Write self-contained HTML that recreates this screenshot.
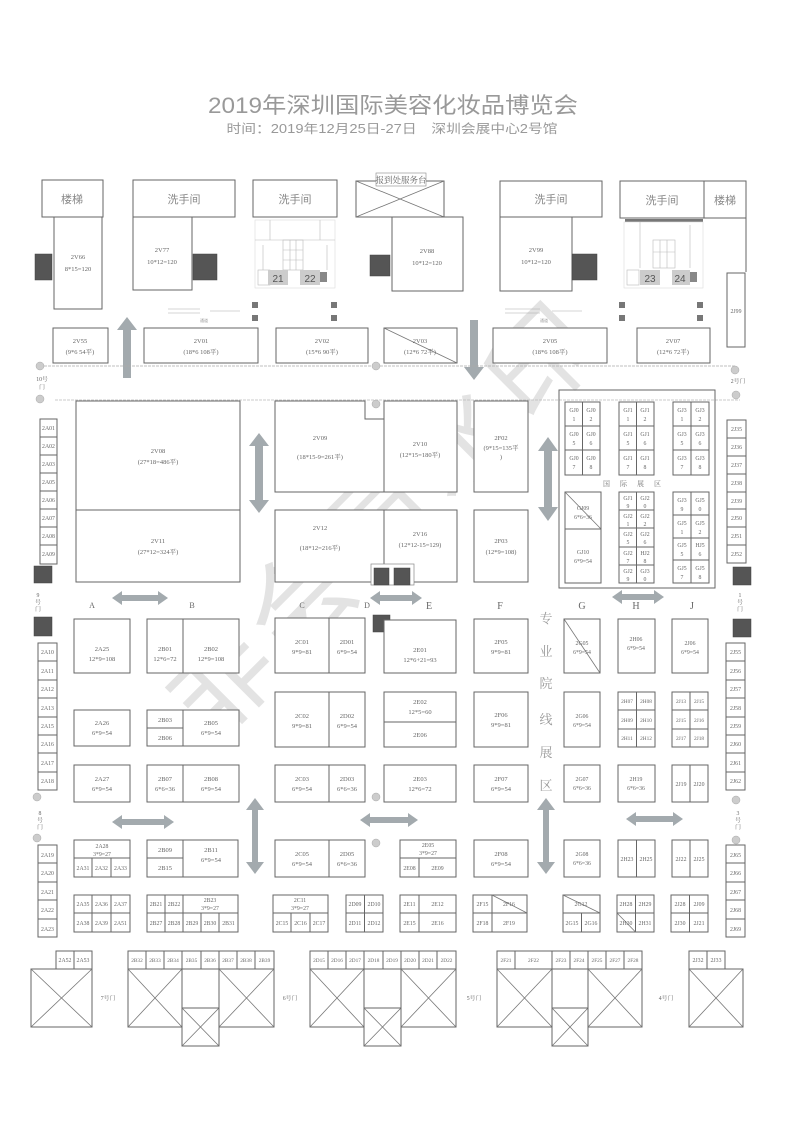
<!DOCTYPE html>
<html><head><meta charset="utf-8">
<style>
html,body{margin:0;padding:0;background:#fff;}
svg{display:block}
.b{fill:#fff;stroke:#666;stroke-width:1}
.n{fill:none;stroke:#666;stroke-width:1}
.x{stroke:#777;stroke-width:.8;fill:none}
.d{fill:#555;stroke:#444;stroke-width:.5}
.a{fill:#a3aaae}
.t{font-family:"Liberation Serif","Noto Serif CJK SC",serif;font-size:6.5px;fill:#666;text-anchor:middle}
.s{font-family:"Liberation Serif","Noto Serif CJK SC",serif;font-size:5.8px;fill:#666;text-anchor:middle}
.h{font-family:"Liberation Sans","Noto Sans CJK SC",sans-serif;font-size:11px;fill:#888;text-anchor:middle}
.l{font-family:"Liberation Serif",serif;font-size:8px;fill:#666;text-anchor:middle}
</style></head><body>
<svg width="793" height="1123" viewBox="0 0 793 1123" xmlns="http://www.w3.org/2000/svg">
<rect width="793" height="1123" fill="#fff"/>
<!-- title -->
<text x="393" y="113" text-anchor="middle" textLength="370" lengthAdjust="spacingAndGlyphs" style="font-family:'Liberation Sans','Noto Sans CJK SC',sans-serif;font-size:22px;fill:#999">2019年深圳国际美容化妆品博览会</text>
<text x="392" y="133" textLength="331" text-anchor="middle" lengthAdjust="spacingAndGlyphs" style="font-family:'Liberation Sans','Noto Sans CJK SC',sans-serif;font-size:12.5px;fill:#999">时间：2019年12月25日-27日　深圳会展中心2号馆</text>

<!-- watermark -->
<text x="385" y="555" transform="rotate(-45 385 520)" text-anchor="middle" style="font-family:'Noto Sans CJK SC',sans-serif;font-size:105px;fill:#d8d8d8;opacity:.7;letter-spacing:8px">非会员水印</text>

<!-- top row -->
<rect class="b" x="42" y="180" width="61" height="37"/><text class="h" x="72" y="203">楼梯</text>
<rect class="b" x="54" y="217" width="48" height="92"/><text class="t" x="78" y="259">2V66</text><text class="t" x="78" y="271">8*15=120</text>
<rect class="d" x="35" y="254" width="17" height="26"/>
<rect class="b" x="133" y="180" width="102" height="37"/><text class="h" x="184" y="203">洗手间</text>
<rect class="b" x="133" y="217" width="59" height="73"/><text class="t" x="162" y="252">2V77</text><text class="t" x="162" y="264">10*12=120</text>
<rect class="d" x="193" y="254" width="24" height="26"/>
<rect class="b" x="253" y="180" width="84" height="37"/><text class="h" x="295" y="203">洗手间</text>
<g stroke="#bbb" stroke-width=".6" fill="none">
<rect x="255" y="220" width="80" height="68" stroke="#ddd"/><line x1="270" y1="220" x2="270" y2="240"/><line x1="320" y1="220" x2="320" y2="240"/>
<line x1="255" y1="240" x2="335" y2="240"/><rect x="283" y="240" width="20" height="30"/>
<line x1="283" y1="250" x2="303" y2="250"/><line x1="283" y1="260" x2="303" y2="260"/><line x1="290" y1="240" x2="290" y2="270"/><line x1="296" y1="240" x2="296" y2="270"/>
<line x1="263" y1="245" x2="263" y2="270"/><line x1="327" y1="245" x2="327" y2="270"/>
<rect x="258" y="270" width="12" height="15"/></g>
<rect x="268" y="270" width="20" height="15" fill="#ccc"/><text x="278" y="282" text-anchor="middle" style="font:10px 'Liberation Sans',sans-serif;fill:#555">21</text>
<rect x="300" y="270" width="20" height="15" fill="#ccc"/><text x="310" y="282" text-anchor="middle" style="font:10px 'Liberation Sans',sans-serif;fill:#555">22</text>
<rect x="320" y="272" width="7" height="10" fill="#888"/>

<rect class="b" x="356" y="181" width="88" height="36"/><line class="x" x1="356" y1="181" x2="444" y2="217"/><line class="x" x1="356" y1="217" x2="444" y2="181"/>
<rect x="376" y="173" width="50" height="13" fill="#fff" stroke="#888" stroke-width=".6"/><text x="401" y="183" text-anchor="middle" style="font:8.5px 'Noto Serif CJK SC',serif;fill:#666">报到处服务台</text>
<rect class="b" x="392" y="217" width="71" height="74"/><text class="t" x="427" y="253">2V88</text><text class="t" x="427" y="265">10*12=120</text>
<rect class="d" x="370" y="255" width="20" height="21"/>
<rect class="b" x="500" y="181" width="102" height="36"/><text class="h" x="551" y="203">洗手间</text>
<rect class="b" x="500" y="217" width="72" height="74"/><text class="t" x="536" y="252">2V99</text><text class="t" x="536" y="264">10*12=120</text>
<rect class="d" x="572" y="254" width="25" height="26"/>
<rect class="b" x="620" y="181" width="84" height="37"/><text class="h" x="662" y="204">洗手间</text>
<rect class="b" x="704" y="181" width="42" height="37"/><text class="h" x="725" y="204">楼梯</text>
<line class="n" x1="746" y1="218" x2="746" y2="272"/>
<rect x="625" y="219" width="78" height="3" fill="#777"/>
<g stroke="#bbb" stroke-width=".6" fill="none">
<rect x="624" y="222" width="79" height="66" stroke="#ddd"/><line x1="640" y1="222" x2="640" y2="268"/><rect x="653" y="240" width="22" height="28"/>
<line x1="653" y1="252" x2="675" y2="252"/><line x1="660" y1="240" x2="660" y2="268"/><line x1="667" y1="240" x2="667" y2="268"/><line x1="690" y1="225" x2="690" y2="268"/>
<rect x="627" y="270" width="12" height="15"/></g>
<rect x="640" y="270" width="20" height="15" fill="#ccc"/><text x="650" y="282" text-anchor="middle" style="font:10px 'Liberation Sans',sans-serif;fill:#555">23</text>
<rect x="672" y="270" width="18" height="15" fill="#ccc"/><text x="680" y="282" text-anchor="middle" style="font:10px 'Liberation Sans',sans-serif;fill:#555">24</text>
<rect x="690" y="272" width="7" height="10" fill="#888"/>
<rect class="b" x="727" y="273" width="18" height="74"/><text class="s" x="736" y="313">2J99</text>

<!-- small squares -->
<g fill="#777"><rect x="252" y="302" width="6" height="6"/><rect x="252" y="315" width="6" height="6"/><rect x="331" y="302" width="6" height="6"/><rect x="331" y="315" width="6" height="6"/>
<rect x="619" y="302" width="6" height="6"/><rect x="619" y="315" width="6" height="6"/><rect x="697" y="302" width="6" height="6"/><rect x="697" y="315" width="6" height="6"/></g>
<g stroke="#aaa" stroke-width=".5"><line x1="168" y1="309" x2="200" y2="309"/><line x1="168" y1="313" x2="200" y2="313"/><line x1="210" y1="311" x2="240" y2="311"/>
<line x1="505" y1="309" x2="540" y2="309"/><line x1="505" y1="313" x2="540" y2="313"/><line x1="552" y1="311" x2="582" y2="311"/></g>
<text x="200" y="322" style="font:4px sans-serif;fill:#999">通道</text><text x="540" y="322" style="font:4px sans-serif;fill:#999">通道</text>

<!-- V row -->
<rect class="b" x="53" y="328" width="55" height="35"/><text class="t" x="80" y="343">2V55</text><text class="t" x="80" y="354">(9*6 54平)</text>
<rect class="b" x="144" y="328" width="114" height="35"/><text class="t" x="201" y="343">2V01</text><text class="t" x="201" y="354">(18*6 108平)</text>
<rect class="b" x="276" y="328" width="92" height="35"/><text class="t" x="322" y="343">2V02</text><text class="t" x="322" y="354">(15*6 90平)</text>
<rect class="b" x="384" y="328" width="73" height="35"/><line class="x" x1="384" y1="328" x2="457" y2="363"/><text class="t" x="420" y="343">2V03</text><text class="t" x="420" y="354">(12*6 72平)</text>
<rect class="b" x="493" y="328" width="114" height="35"/><text class="t" x="550" y="343">2V05</text><text class="t" x="550" y="354">(18*6 108平)</text>
<rect class="b" x="637" y="328" width="73" height="35"/><text class="t" x="673" y="343">2V07</text><text class="t" x="673" y="354">(12*6 72平)</text>
<polygon class="a" points="127,317 137,330 131,330 131,378 123,378 123,330 117,330"/>
<polygon class="a" points="474,380 464,367 470,367 470,320 478,320 478,367 484,367"/>
<line x1="40" y1="366" x2="735" y2="366" stroke="#aaa" stroke-width=".8" stroke-dasharray="3,1"/>
<line x1="55" y1="400" x2="740" y2="400" stroke="#bbb" stroke-width=".8" stroke-dasharray="3,1"/>
<g fill="#ccc" stroke="#aaa" stroke-width=".5"><circle cx="40" cy="366" r="4"/><circle cx="40" cy="399" r="4"/><circle cx="376" cy="366" r="4"/><circle cx="735" cy="370" r="4"/><circle cx="736" cy="395" r="4"/><circle cx="376" cy="404" r="4"/>
<circle cx="37" cy="797" r="4"/><circle cx="37" cy="838" r="4"/><circle cx="376" cy="797" r="4"/><circle cx="376" cy="843" r="4"/><circle cx="736" cy="800" r="4"/><circle cx="736" cy="840" r="4"/></g>
<text class="s" x="42" y="381">10号</text><text class="s" x="42" y="389">门</text>
<text class="s" x="738" y="383">2号门</text>

<!-- middle big -->
<rect class="b" x="76" y="401" width="164" height="109"/><text class="t" x="158" y="453">2V08</text><text class="t" x="158" y="464">(27*18=486平)</text>
<rect class="b" x="76" y="510" width="164" height="72"/><text class="t" x="158" y="543">2V11</text><text class="t" x="158" y="554">(27*12=324平)</text>
<polygon class="a" points="259,433 269,446 263,446 263,500 269,500 259,513 249,500 255,500 255,446 249,446"/>
<path class="b" d="M275,401 H365 V419 H384 V492 H275 Z"/>
<rect class="b" x="384" y="401" width="73" height="91"/>
<text class="t" x="320" y="440">2V09</text><text class="t" x="320" y="459">(18*15-9=261平)</text>
<text class="t" x="420" y="446">2V10</text><text class="t" x="420" y="457">(12*15=180平)</text>
<rect class="b" x="275" y="510" width="109" height="72"/><text class="t" x="320" y="530">2V12</text><text class="t" x="320" y="550">(18*12=216平)</text>
<rect class="b" x="384" y="510" width="73" height="72"/><text class="t" x="420" y="536">2V16</text><text class="t" x="420" y="547">(12*12-15=129)</text>
<rect x="371" y="564" width="43" height="21" fill="#fff" stroke="#888" stroke-width=".7"/>
<rect class="d" x="374" y="568" width="15" height="17"/><rect class="d" x="394" y="568" width="16" height="17"/>
<rect class="d" x="373" y="615" width="17" height="17"/>
<rect class="b" x="474" y="401" width="54" height="91"/><text class="t" x="501" y="440">2F02</text><text class="t" x="501" y="450">(9*15=135平</text><text class="t" x="501" y="459">)</text>
<rect class="b" x="474" y="510" width="54" height="72"/><text class="t" x="501" y="543">2F03</text><text class="t" x="501" y="554">(12*9=108)</text>
<polygon class="a" points="548,437 558,451 552,451 552,507 558,507 548,521 538,507 544,507 544,451 538,451"/>

<!-- international -->
<rect class="n" x="559" y="390" width="156" height="198"/>
<g>
<rect class="b" x="565" y="402" width="35" height="73"/><line class="n" x1="582.5" y1="402" x2="582.5" y2="475"/><line class="n" x1="565" y1="426" x2="600" y2="426"/><line class="n" x1="565" y1="450" x2="600" y2="450"/>
<rect class="b" x="619" y="402" width="35" height="73"/><line class="n" x1="636.5" y1="402" x2="636.5" y2="475"/><line class="n" x1="619" y1="426" x2="654" y2="426"/><line class="n" x1="619" y1="450" x2="654" y2="450"/>
<rect class="b" x="673" y="402" width="36" height="73"/><line class="n" x1="691" y1="402" x2="691" y2="475"/><line class="n" x1="673" y1="426" x2="709" y2="426"/><line class="n" x1="673" y1="450" x2="709" y2="450"/>
</g>
<g class="s">
<text x="574" y="412">GJ0</text><text x="574" y="421">1</text><text x="591" y="412">GJ0</text><text x="591" y="421">2</text>
<text x="574" y="436">GJ0</text><text x="574" y="445">5</text><text x="591" y="436">GJ0</text><text x="591" y="445">6</text>
<text x="574" y="460">GJ0</text><text x="574" y="469">7</text><text x="591" y="460">GJ0</text><text x="591" y="469">8</text>
<text x="628" y="412">GJ1</text><text x="628" y="421">1</text><text x="645" y="412">GJ1</text><text x="645" y="421">2</text>
<text x="628" y="436">GJ1</text><text x="628" y="445">5</text><text x="645" y="436">GJ1</text><text x="645" y="445">6</text>
<text x="628" y="460">GJ1</text><text x="628" y="469">7</text><text x="645" y="460">GJ1</text><text x="645" y="469">8</text>
<text x="682" y="412">GJ3</text><text x="682" y="421">1</text><text x="700" y="412">GJ3</text><text x="700" y="421">2</text>
<text x="682" y="436">GJ3</text><text x="682" y="445">5</text><text x="700" y="436">GJ3</text><text x="700" y="445">6</text>
<text x="682" y="460">GJ3</text><text x="682" y="469">7</text><text x="700" y="460">GJ3</text><text x="700" y="469">8</text>
</g>
<text x="637" y="486" text-anchor="middle" style="font:7px 'Noto Serif CJK SC',serif;fill:#777;letter-spacing:10px">国际展区</text>
<rect class="b" x="565" y="492" width="36" height="37"/><line class="x" x1="565" y1="492" x2="601" y2="529"/><text class="s" x="583" y="510">GJ09</text><text class="s" x="583" y="519">6*6=36</text>
<rect class="b" x="565" y="529" width="36" height="54"/><text class="s" x="583" y="554">GJ10</text><text class="s" x="583" y="563">6*9=54</text>
<rect class="b" x="619" y="492" width="35" height="91"/><line class="n" x1="636.5" y1="492" x2="636.5" y2="583"/>
<g class="n"><line x1="619" y1="510" x2="654" y2="510"/><line x1="619" y1="528" x2="654" y2="528"/><line x1="619" y1="547" x2="654" y2="547"/><line x1="619" y1="565" x2="654" y2="565"/></g>
<rect class="b" x="673" y="492" width="36" height="91"/><line class="n" x1="691" y1="492" x2="691" y2="583"/>
<g class="n"><line x1="673" y1="515" x2="709" y2="515"/><line x1="673" y1="538" x2="709" y2="538"/><line x1="673" y1="560" x2="709" y2="560"/></g>
<g class="s">
<text x="628" y="500">GJ1</text><text x="628" y="508">9</text><text x="645" y="500">GJ2</text><text x="645" y="508">0</text>
<text x="628" y="518">GJ2</text><text x="628" y="526">1</text><text x="645" y="518">GJ2</text><text x="645" y="526">2</text>
<text x="628" y="536">GJ2</text><text x="628" y="544">5</text><text x="645" y="536">GJ2</text><text x="645" y="544">6</text>
<text x="628" y="555">GJ2</text><text x="628" y="563">7</text><text x="645" y="555">HJ2</text><text x="645" y="563">8</text>
<text x="628" y="573">GJ2</text><text x="628" y="581">9</text><text x="645" y="573">GJ3</text><text x="645" y="581">0</text>
<text x="682" y="502">GJ3</text><text x="682" y="511">9</text><text x="700" y="502">GJ5</text><text x="700" y="511">0</text>
<text x="682" y="525">GJ5</text><text x="682" y="534">1</text><text x="700" y="525">GJ5</text><text x="700" y="534">2</text>
<text x="682" y="547">GJ5</text><text x="682" y="556">5</text><text x="700" y="547">HJ5</text><text x="700" y="556">6</text>
<text x="682" y="570">GJ5</text><text x="682" y="579">7</text><text x="700" y="570">GJ5</text><text x="700" y="579">8</text>
</g>

<!-- side columns -->
<g>
<rect class="b" x="40" y="419" width="17" height="145"/>
<g class="n"><line x1="40" y1="437" x2="57" y2="437"/><line x1="40" y1="455" x2="57" y2="455"/><line x1="40" y1="473" x2="57" y2="473"/><line x1="40" y1="491" x2="57" y2="491"/><line x1="40" y1="509" x2="57" y2="509"/><line x1="40" y1="527" x2="57" y2="527"/><line x1="40" y1="545" x2="57" y2="545"/></g>
<g class="s"><text x="48.5" y="430">2A01</text><text x="48.5" y="448">2A02</text><text x="48.5" y="466">2A03</text><text x="48.5" y="484">2A05</text><text x="48.5" y="502">2A06</text><text x="48.5" y="520">2A07</text><text x="48.5" y="538">2A08</text><text x="48.5" y="556">2A09</text></g>
<rect class="d" x="34" y="566" width="18" height="17"/>
<text class="s" x="38" y="597">9</text><text class="s" x="38" y="604">号</text><text class="s" x="38" y="611">门</text>
<rect class="d" x="34" y="617" width="18" height="19"/>
<rect class="b" x="38" y="643" width="19" height="147"/>
<g class="n"><line x1="38" y1="661" x2="57" y2="661"/><line x1="38" y1="680" x2="57" y2="680"/><line x1="38" y1="698" x2="57" y2="698"/><line x1="38" y1="717" x2="57" y2="717"/><line x1="38" y1="735" x2="57" y2="735"/><line x1="38" y1="753" x2="57" y2="753"/><line x1="38" y1="772" x2="57" y2="772"/></g>
<g class="s"><text x="47.5" y="654">2A10</text><text x="47.5" y="673">2A11</text><text x="47.5" y="691">2A12</text><text x="47.5" y="710">2A13</text><text x="47.5" y="728">2A15</text><text x="47.5" y="746">2A16</text><text x="47.5" y="765">2A17</text><text x="47.5" y="783">2A18</text></g>
<text class="s" x="40" y="815">8</text><text class="s" x="40" y="822">号</text><text class="s" x="40" y="829">门</text>
<rect class="b" x="38" y="845" width="19" height="92"/>
<g class="n"><line x1="38" y1="863" x2="57" y2="863"/><line x1="38" y1="882" x2="57" y2="882"/><line x1="38" y1="900" x2="57" y2="900"/><line x1="38" y1="919" x2="57" y2="919"/></g>
<g class="s"><text x="47.5" y="857">2A19</text><text x="47.5" y="875">2A20</text><text x="47.5" y="894">2A21</text><text x="47.5" y="912">2A22</text><text x="47.5" y="931">2A23</text></g>

<rect class="b" x="727" y="420" width="19" height="143"/>
<g class="n"><line x1="727" y1="438" x2="746" y2="438"/><line x1="727" y1="456" x2="746" y2="456"/><line x1="727" y1="474" x2="746" y2="474"/><line x1="727" y1="492" x2="746" y2="492"/><line x1="727" y1="509" x2="746" y2="509"/><line x1="727" y1="527" x2="746" y2="527"/><line x1="727" y1="545" x2="746" y2="545"/></g>
<g class="s"><text x="736.5" y="431">2J35</text><text x="736.5" y="449">2J36</text><text x="736.5" y="467">2J37</text><text x="736.5" y="485">2J38</text><text x="736.5" y="503">2J39</text><text x="736.5" y="520">2J50</text><text x="736.5" y="538">2J51</text><text x="736.5" y="556">2J52</text></g>
<rect class="d" x="733" y="567" width="18" height="18"/>
<text class="s" x="740" y="597">1</text><text class="s" x="740" y="604">号</text><text class="s" x="740" y="611">门</text>
<rect class="d" x="733" y="619" width="18" height="18"/>
<rect class="b" x="726" y="643" width="19" height="147"/>
<g class="n"><line x1="726" y1="661" x2="745" y2="661"/><line x1="726" y1="680" x2="745" y2="680"/><line x1="726" y1="698" x2="745" y2="698"/><line x1="726" y1="717" x2="745" y2="717"/><line x1="726" y1="735" x2="745" y2="735"/><line x1="726" y1="753" x2="745" y2="753"/><line x1="726" y1="772" x2="745" y2="772"/></g>
<g class="s"><text x="735.5" y="654">2J55</text><text x="735.5" y="673">2J56</text><text x="735.5" y="691">2J57</text><text x="735.5" y="710">2J58</text><text x="735.5" y="728">2J59</text><text x="735.5" y="746">2J60</text><text x="735.5" y="765">2J61</text><text x="735.5" y="783">2J62</text></g>
<text class="s" x="738" y="815">3</text><text class="s" x="738" y="822">号</text><text class="s" x="738" y="829">门</text>
<rect class="b" x="726" y="845" width="19" height="92"/>
<g class="n"><line x1="726" y1="863" x2="745" y2="863"/><line x1="726" y1="882" x2="745" y2="882"/><line x1="726" y1="900" x2="745" y2="900"/><line x1="726" y1="919" x2="745" y2="919"/></g>
<g class="s"><text x="735.5" y="857">2J65</text><text x="735.5" y="875">2J66</text><text x="735.5" y="894">2J67</text><text x="735.5" y="912">2J68</text><text x="735.5" y="931">2J69</text></g>
</g>

<!-- letters & arrows -->
<g class="l"><text x="92" y="608">A</text><text x="192" y="608">B</text><text x="302" y="608">C</text><text x="367" y="608">D</text><text x="429" y="609" style="font-size:10px">E</text><text x="500" y="609" style="font-size:10px">F</text><text x="582" y="609" style="font-size:10px">G</text><text x="636" y="609" style="font-size:10px">H</text><text x="692" y="609" style="font-size:10px">J</text></g>
<polygon class="a" points="112,598 122,591 122,595 158,595 158,591 168,598 158,605 158,601 122,601 122,605"/>
<polygon class="a" points="370,598 380,591 380,595 412,595 412,591 422,598 412,605 412,601 380,601 380,605"/>
<polygon class="a" points="612,597 622,590 622,594 654,594 654,590 664,597 654,604 654,600 622,600 622,604"/>
<polygon class="a" points="112,822 122,815 122,819 164,819 164,815 174,822 164,829 164,825 122,825 122,829"/>
<polygon class="a" points="360,820 370,813 370,817 408,817 408,813 418,820 408,827 408,823 370,823 370,827"/>
<polygon class="a" points="626,819 636,812 636,816 673,816 673,812 683,819 673,826 673,822 636,822 636,826"/>
<polygon class="a" points="255,798 264,810 258,810 258,862 264,862 255,874 246,862 252,862 252,810 246,810"/>
<polygon class="a" points="546,798 555,810 549,810 549,862 555,862 546,874 537,862 543,862 543,810 537,810"/>
<g style="font:13px 'Noto Serif CJK SC',serif;fill:#999" text-anchor="middle"><text x="546" y="623">专</text><text x="546" y="656">业</text><text x="546" y="688">院</text><text x="546" y="724">线</text><text x="546" y="757">展</text><text x="546" y="790">区</text></g>

<!-- Row 1 -->
<rect class="b" x="74" y="619" width="56" height="54"/><text class="t" x="102" y="651">2A25</text><text class="t" x="102" y="661">12*9=108</text>
<rect class="b" x="147" y="619" width="92" height="54"/><line class="n" x1="183" y1="619" x2="183" y2="673"/>
<text class="t" x="165" y="651">2B01</text><text class="t" x="165" y="661">12*6=72</text><text class="t" x="211" y="651">2B02</text><text class="t" x="211" y="661">12*9=108</text>
<rect class="b" x="275" y="618" width="90" height="55"/><line class="n" x1="329" y1="618" x2="329" y2="673"/>
<text class="t" x="302" y="644">2C01</text><text class="t" x="302" y="654">9*9=81</text><text class="t" x="347" y="644">2D01</text><text class="t" x="347" y="654">6*9=54</text>
<rect class="b" x="384" y="620" width="72" height="53"/><text class="t" x="420" y="652">2E01</text><text class="t" x="420" y="662">12*6+21=93</text>
<rect class="b" x="474" y="619" width="54" height="54"/><text class="t" x="501" y="644">2F05</text><text class="t" x="501" y="654">9*9=81</text>
<rect class="b" x="564" y="619" width="36" height="54"/><line class="x" x1="564" y1="619" x2="600" y2="673"/><text class="s" x="582" y="645">2G05</text><text class="s" x="582" y="654">6*9=54</text>
<rect class="b" x="618" y="619" width="37" height="54"/><text class="s" x="636" y="641">2H06</text><text class="s" x="636" y="650">6*9=54</text>
<rect class="b" x="672" y="619" width="36" height="54"/><text class="s" x="690" y="645">2J06</text><text class="s" x="690" y="654">6*9=54</text>

<!-- Row 2 -->
<rect class="b" x="74" y="710" width="56" height="36"/><text class="t" x="102" y="725">2A26</text><text class="t" x="102" y="735">6*9=54</text>
<rect class="b" x="147" y="710" width="92" height="36"/><line class="n" x1="183" y1="710" x2="183" y2="746"/><line class="n" x1="147" y1="728" x2="183" y2="728"/>
<text class="t" x="165" y="722">2B03</text><text class="t" x="165" y="740">2B06</text><text class="t" x="211" y="725">2B05</text><text class="t" x="211" y="735">6*9=54</text>
<rect class="b" x="275" y="692" width="90" height="55"/><line class="n" x1="329" y1="692" x2="329" y2="747"/>
<text class="t" x="302" y="718">2C02</text><text class="t" x="302" y="728">9*9=81</text><text class="t" x="347" y="718">2D02</text><text class="t" x="347" y="728">6*9=54</text>
<rect class="b" x="384" y="692" width="72" height="55"/><line class="n" x1="384" y1="722" x2="456" y2="722"/>
<text class="t" x="420" y="704">2E02</text><text class="t" x="420" y="714">12*5=60</text><text class="t" x="420" y="737">2E06</text>
<rect class="b" x="474" y="692" width="54" height="55"/><text class="t" x="501" y="717">2F06</text><text class="t" x="501" y="727">9*9=81</text>
<rect class="b" x="564" y="692" width="36" height="55"/><text class="s" x="582" y="718">2G06</text><text class="s" x="582" y="727">6*9=54</text>
<rect class="b" x="618" y="692" width="37" height="55"/><line class="n" x1="636.5" y1="692" x2="636.5" y2="747"/><line class="n" x1="618" y1="710" x2="655" y2="710"/><line class="n" x1="618" y1="729" x2="655" y2="729"/>
<g class="s" style="font-size:5.3px"><text x="627" y="703">2H07</text><text x="646" y="703">2H08</text><text x="627" y="722">2H09</text><text x="646" y="722">2H10</text><text x="627" y="740">2H11</text><text x="646" y="740">2H12</text></g>
<rect class="b" x="672" y="692" width="36" height="55"/><line class="n" x1="690" y1="692" x2="690" y2="747"/><line class="n" x1="672" y1="710" x2="708" y2="710"/><line class="n" x1="672" y1="729" x2="708" y2="729"/>
<g class="s" style="font-size:5.3px"><text x="681" y="703">2J13</text><text x="699" y="703">2J15</text><text x="681" y="722">2J15</text><text x="699" y="722">2J16</text><text x="681" y="740">2J17</text><text x="699" y="740">2J18</text></g>

<!-- Row 3 -->
<rect class="b" x="74" y="765" width="56" height="37"/><text class="t" x="102" y="781">2A27</text><text class="t" x="102" y="791">6*9=54</text>
<rect class="b" x="147" y="765" width="92" height="37"/><line class="n" x1="183" y1="765" x2="183" y2="802"/>
<text class="t" x="165" y="781">2B07</text><text class="t" x="165" y="791">6*6=36</text><text class="t" x="211" y="781">2B08</text><text class="t" x="211" y="791">6*9=54</text>
<rect class="b" x="275" y="765" width="90" height="37"/><line class="n" x1="329" y1="765" x2="329" y2="802"/>
<text class="t" x="302" y="781">2C03</text><text class="t" x="302" y="791">6*9=54</text><text class="t" x="347" y="781">2D03</text><text class="t" x="347" y="791">6*6=36</text>
<rect class="b" x="384" y="765" width="72" height="37"/><text class="t" x="420" y="781">2E03</text><text class="t" x="420" y="791">12*6=72</text>
<rect class="b" x="474" y="765" width="54" height="37"/><text class="t" x="501" y="781">2F07</text><text class="t" x="501" y="791">6*9=54</text>
<rect class="b" x="564" y="765" width="36" height="37"/><text class="s" x="582" y="781">2G07</text><text class="s" x="582" y="790">6*6=36</text>
<rect class="b" x="618" y="765" width="37" height="37"/><text class="s" x="636" y="781">2H19</text><text class="s" x="636" y="790">6*6=36</text>
<rect class="b" x="672" y="765" width="36" height="37"/><line class="n" x1="690" y1="765" x2="690" y2="802"/><text class="s" x="681" y="786">2J19</text><text class="s" x="699" y="786">2J20</text>

<!-- Row 4 -->
<rect class="b" x="74" y="840" width="56" height="37"/><line class="n" x1="74" y1="858" x2="130" y2="858"/><line class="n" x1="92" y1="858" x2="92" y2="877"/><line class="n" x1="111" y1="858" x2="111" y2="877"/>
<text class="s" x="102" y="848">2A28</text><text class="s" x="102" y="856">3*9=27</text><text class="s" x="83" y="870">2A31</text><text class="s" x="101.5" y="870">2A32</text><text class="s" x="120.5" y="870">2A33</text>
<rect class="b" x="147" y="840" width="91" height="37"/><line class="n" x1="183" y1="840" x2="183" y2="877"/><line class="n" x1="147" y1="858" x2="183" y2="858"/>
<text class="t" x="165" y="852">2B09</text><text class="t" x="165" y="870">2B15</text><text class="t" x="211" y="852">2B11</text><text class="t" x="211" y="862">6*9=54</text>
<rect class="b" x="275" y="840" width="90" height="37"/><line class="n" x1="329" y1="840" x2="329" y2="877"/>
<text class="t" x="302" y="856">2C05</text><text class="t" x="302" y="866">6*9=54</text><text class="t" x="347" y="856">2D05</text><text class="t" x="347" y="866">6*6=36</text>
<rect class="b" x="400" y="840" width="56" height="37"/><line class="n" x1="400" y1="858" x2="456" y2="858"/><line class="n" x1="419" y1="858" x2="419" y2="877"/>
<text class="s" x="428" y="847">2E05</text><text class="s" x="428" y="855">3*9=27</text><text class="s" x="409.5" y="870">2E08</text><text class="s" x="437.5" y="870">2E09</text>
<rect class="b" x="474" y="840" width="54" height="37"/><text class="t" x="501" y="856">2F08</text><text class="t" x="501" y="866">6*9=54</text>
<rect class="b" x="564" y="840" width="36" height="37"/><text class="s" x="582" y="856">2G08</text><text class="s" x="582" y="865">6*6=36</text>
<rect class="b" x="618" y="840" width="37" height="37"/><line class="n" x1="636.5" y1="840" x2="636.5" y2="877"/><text class="s" x="627" y="861">2H23</text><text class="s" x="646" y="861">2H25</text>
<rect class="b" x="672" y="840" width="36" height="37"/><line class="n" x1="690" y1="840" x2="690" y2="877"/><text class="s" x="681" y="861">2J22</text><text class="s" x="699" y="861">2J25</text>

<!-- Row 5 -->
<rect class="b" x="74" y="895" width="56" height="37"/><line class="n" x1="74" y1="913" x2="130" y2="913"/><line class="n" x1="92" y1="895" x2="92" y2="932"/><line class="n" x1="111" y1="895" x2="111" y2="932"/>
<g class="s"><text x="83" y="906">2A35</text><text x="101.5" y="906">2A36</text><text x="120.5" y="906">2A37</text><text x="83" y="925">2A38</text><text x="101.5" y="925">2A39</text><text x="120.5" y="925">2A51</text></g>
<rect class="b" x="147" y="895" width="91" height="37"/><line class="n" x1="147" y1="913" x2="238" y2="913"/><line class="n" x1="165" y1="895" x2="165" y2="932"/><line class="n" x1="183" y1="895" x2="183" y2="932"/><line class="n" x1="201" y1="913" x2="201" y2="932"/><line class="n" x1="219" y1="913" x2="219" y2="932"/>
<g class="s"><text x="156" y="906">2B21</text><text x="174" y="906">2B22</text><text x="210" y="902">2B23</text><text x="210" y="910">3*9=27</text><text x="156" y="925">2B27</text><text x="174" y="925">2B28</text><text x="192" y="925">2B29</text><text x="210" y="925">2B30</text><text x="228.5" y="925">2B31</text></g>
<rect class="b" x="273" y="895" width="55" height="37"/><line class="n" x1="273" y1="913" x2="328" y2="913"/><line class="n" x1="291" y1="913" x2="291" y2="932"/><line class="n" x1="310" y1="913" x2="310" y2="932"/>
<g class="s"><text x="300" y="902">2C11</text><text x="300" y="910">3*9=27</text><text x="282" y="925">2C15</text><text x="300.5" y="925">2C16</text><text x="319" y="925">2C17</text></g>
<rect class="b" x="346" y="895" width="37" height="37"/><line class="n" x1="346" y1="913" x2="383" y2="913"/><line class="n" x1="364.5" y1="895" x2="364.5" y2="932"/>
<g class="s"><text x="355" y="906">2D09</text><text x="374" y="906">2D10</text><text x="355" y="925">2D11</text><text x="374" y="925">2D12</text></g>
<rect class="b" x="400" y="895" width="56" height="37"/><line class="n" x1="400" y1="913" x2="456" y2="913"/><line class="n" x1="419" y1="895" x2="419" y2="932"/>
<g class="s"><text x="409.5" y="906">2E11</text><text x="437.5" y="906">2E12</text><text x="409.5" y="925">2E15</text><text x="437.5" y="925">2E16</text></g>
<rect class="b" x="473" y="895" width="54" height="37"/><line class="n" x1="473" y1="913" x2="527" y2="913"/><line class="n" x1="492" y1="895" x2="492" y2="932"/><line class="x" x1="492" y1="895" x2="527" y2="913"/>
<g class="s"><text x="482.5" y="906">2F15</text><text x="509" y="906">2F16</text><text x="482.5" y="925">2F18</text><text x="509" y="925">2F19</text></g>
<rect class="b" x="563" y="895" width="37" height="37"/><line class="n" x1="563" y1="913" x2="600" y2="913"/><line class="n" x1="581.5" y1="913" x2="581.5" y2="932"/><line class="x" x1="563" y1="895" x2="600" y2="913"/>
<g class="s"><text x="581" y="906">2G12</text><text x="572" y="925">2G15</text><text x="591" y="925">2G16</text></g>
<rect class="b" x="617" y="895" width="37" height="37"/><line class="n" x1="617" y1="913" x2="654" y2="913"/><line class="n" x1="635.5" y1="895" x2="635.5" y2="932"/><line class="x" x1="617" y1="913" x2="635.5" y2="932"/>
<g class="s"><text x="626" y="906">2H28</text><text x="645" y="906">2H29</text><text x="626" y="925">2H30</text><text x="645" y="925">2H31</text></g>
<rect class="b" x="671" y="895" width="37" height="37"/><line class="n" x1="671" y1="913" x2="708" y2="913"/><line class="n" x1="689.5" y1="895" x2="689.5" y2="932"/>
<g class="s"><text x="680" y="906">2J28</text><text x="699" y="906">2J09</text><text x="680" y="925">2J30</text><text x="699" y="925">2J21</text></g>

<!-- bottom strip -->
<rect class="b" x="56" y="951" width="36" height="18"/><line class="n" x1="74" y1="951" x2="74" y2="969"/><text class="s" x="65" y="962">2A52</text><text class="s" x="83" y="962">2A53</text>
<rect class="b" x="128" y="951" width="146" height="18"/>
<g class="n"><line x1="146" y1="951" x2="146" y2="969"/><line x1="164" y1="951" x2="164" y2="969"/><line x1="182" y1="951" x2="182" y2="969"/><line x1="201" y1="951" x2="201" y2="969"/><line x1="219" y1="951" x2="219" y2="969"/><line x1="237" y1="951" x2="237" y2="969"/><line x1="255" y1="951" x2="255" y2="969"/></g>
<g class="s" style="font-size:5.3px"><text x="137" y="962">2B32</text><text x="155" y="962">2B33</text><text x="173" y="962">2B34</text><text x="191.5" y="962">2B35</text><text x="210" y="962">2B36</text><text x="228" y="962">2B37</text><text x="246" y="962">2B38</text><text x="264.5" y="962">2B39</text></g>
<rect class="b" x="310" y="951" width="146" height="18"/>
<g class="n"><line x1="328" y1="951" x2="328" y2="969"/><line x1="346" y1="951" x2="346" y2="969"/><line x1="364" y1="951" x2="364" y2="969"/><line x1="383" y1="951" x2="383" y2="969"/><line x1="401" y1="951" x2="401" y2="969"/><line x1="419" y1="951" x2="419" y2="969"/><line x1="437" y1="951" x2="437" y2="969"/></g>
<g class="s" style="font-size:5.3px"><text x="319" y="962">2D15</text><text x="337" y="962">2D16</text><text x="355" y="962">2D17</text><text x="373.5" y="962">2D18</text><text x="392" y="962">2D19</text><text x="410" y="962">2D20</text><text x="428" y="962">2D21</text><text x="446.5" y="962">2D22</text></g>
<rect class="b" x="497" y="951" width="145" height="18"/>
<g class="n"><line x1="515" y1="951" x2="515" y2="969"/><line x1="552" y1="951" x2="552" y2="969"/><line x1="570" y1="951" x2="570" y2="969"/><line x1="588" y1="951" x2="588" y2="969"/><line x1="606" y1="951" x2="606" y2="969"/><line x1="624" y1="951" x2="624" y2="969"/></g>
<g class="s" style="font-size:5.3px"><text x="506" y="962">2F21</text><text x="533.5" y="962">2F22</text><text x="561" y="962">2F23</text><text x="579" y="962">2F24</text><text x="597" y="962">2F25</text><text x="615" y="962">2F27</text><text x="633" y="962">2F28</text></g>
<rect class="b" x="689" y="951" width="36" height="18"/><line class="n" x1="707" y1="951" x2="707" y2="969"/><text class="s" x="698" y="962">2J32</text><text class="s" x="716" y="962">2J33</text>

<!-- crossed gates -->
<g>
<rect class="b" x="31" y="969" width="61" height="58"/><line class="x" x1="31" y1="969" x2="92" y2="1027"/><line class="x" x1="31" y1="1027" x2="92" y2="969"/>
<rect class="b" x="128" y="969" width="54" height="58"/><line class="x" x1="128" y1="969" x2="182" y2="1027"/><line class="x" x1="128" y1="1027" x2="182" y2="969"/>
<rect class="b" x="182" y="969" width="37" height="39"/>
<rect class="b" x="182" y="1008" width="37" height="38"/><line class="x" x1="182" y1="1008" x2="219" y2="1046"/><line class="x" x1="182" y1="1046" x2="219" y2="1008"/>
<rect class="b" x="219" y="969" width="55" height="58"/><line class="x" x1="219" y1="969" x2="274" y2="1027"/><line class="x" x1="219" y1="1027" x2="274" y2="969"/>
<rect class="b" x="310" y="969" width="54" height="58"/><line class="x" x1="310" y1="969" x2="364" y2="1027"/><line class="x" x1="310" y1="1027" x2="364" y2="969"/>
<rect class="b" x="364" y="969" width="37" height="39"/>
<rect class="b" x="364" y="1008" width="37" height="38"/><line class="x" x1="364" y1="1008" x2="401" y2="1046"/><line class="x" x1="364" y1="1046" x2="401" y2="1008"/>
<rect class="b" x="401" y="969" width="55" height="58"/><line class="x" x1="401" y1="969" x2="456" y2="1027"/><line class="x" x1="401" y1="1027" x2="456" y2="969"/>
<rect class="b" x="497" y="969" width="55" height="58"/><line class="x" x1="497" y1="969" x2="552" y2="1027"/><line class="x" x1="497" y1="1027" x2="552" y2="969"/>
<rect class="b" x="552" y="969" width="36" height="39"/>
<rect class="b" x="552" y="1008" width="36" height="38"/><line class="x" x1="552" y1="1008" x2="588" y2="1046"/><line class="x" x1="552" y1="1046" x2="588" y2="1008"/>
<rect class="b" x="588" y="969" width="54" height="58"/><line class="x" x1="588" y1="969" x2="642" y2="1027"/><line class="x" x1="588" y1="1027" x2="642" y2="969"/>
<rect class="b" x="689" y="969" width="54" height="58"/><line class="x" x1="689" y1="969" x2="743" y2="1027"/><line class="x" x1="689" y1="1027" x2="743" y2="969"/>
</g>
<g class="s"><text x="108" y="1000">7号门</text><text x="290" y="1000">6号门</text><text x="474" y="1000">5号门</text><text x="666" y="1000">4号门</text></g>
</svg>
</body></html>
